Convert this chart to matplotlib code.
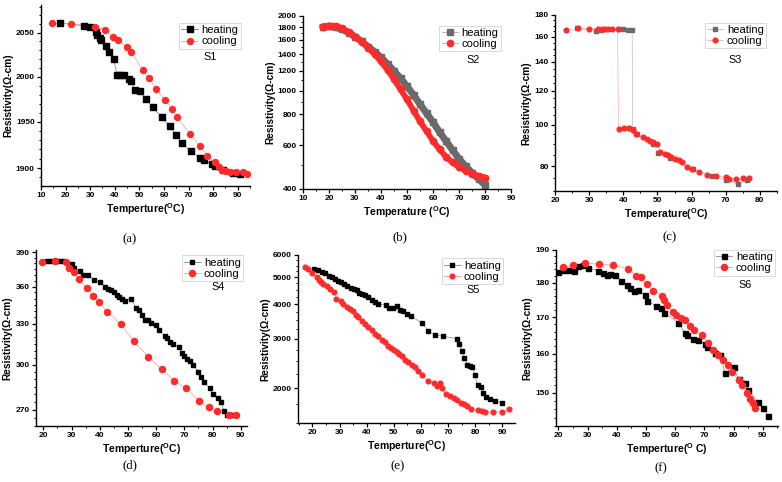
import matplotlib
matplotlib.use('Agg')
import matplotlib.pyplot as plt
from matplotlib.ticker import FixedLocator, FuncFormatter, NullFormatter, MultipleLocator

plt.rcParams['font.family'] = ['Liberation Sans', 'DejaVu Sans']
plt.rcParams['mathtext.fontset'] = 'custom'
plt.rcParams['mathtext.rm'] = 'Liberation Sans'
plt.rcParams['mathtext.bf'] = 'Liberation Sans:bold'

# ---------------- data ----------------
# (a) S1
a_heat_T = [17.9, 27.4, 30.0, 32.3, 32.6, 33.8, 34.5, 36.3, 37.5, 39.6, 40.9, 42.3, 43.7, 45.7, 46.5,
            48.3, 50.2, 52.8, 55.4, 59.2, 62.3, 64.8, 67.2, 71.0, 74.6, 76.1, 79.5, 80.7, 84.1, 88.2, 91.1]
a_heat_R = [2061, 2058, 2056, 2051, 2047, 2044, 2042, 2035, 2028, 2020, 2002, 2002, 2002, 1997, 1995,
            1985, 1984, 1975, 1966, 1955, 1945, 1936, 1927, 1918, 1911, 1909, 1904, 1902, 1898, 1895, 1894]
a_cool_T = [14.4, 22.3, 32.1, 36.2, 39.2, 41.5, 45.0, 46.8, 51.3, 54.1, 56.9, 60.3, 63.4, 65.4, 70.5,
            74.6, 77.7, 80.6, 82.5, 83.8, 85.2, 86.7, 89.4, 92.3, 93.6]
a_cool_R = [2061, 2060, 2057, 2053, 2045, 2041, 2033, 2028, 2007, 1998, 1986, 1974, 1964, 1955, 1937,
            1924, 1913, 1906, 1901, 1898, 1897, 1896, 1896, 1896, 1894]

# (b) S2
b_heat_T = [17.5, 20, 22.5, 25, 27.5, 30, 32.5, 35, 37.5, 40, 42.5, 45, 47.5, 50, 52.5, 55, 57.5,
            60, 62.5, 65, 67.5, 70, 72.5, 75, 77.5, 80]
b_heat_R = [1810, 1815, 1800, 1765, 1715, 1650, 1580, 1505, 1435, 1360, 1280, 1200, 1120, 1040, 960,
            880, 810, 745, 680, 625, 575, 530, 495, 465, 440, 415]
b_cool_T = [17.5, 20, 22.5, 25, 27.5, 30, 32.5, 35, 37.5, 40, 42.5, 45, 47.5, 50, 52.5, 55, 57.5,
            60, 62.5, 65, 67.5, 70, 72.5, 75, 77.5, 80]
b_cool_R = [1805, 1830, 1825, 1785, 1725, 1650, 1575, 1490, 1400, 1310, 1210, 1110, 1010, 920, 830,
            750, 685, 625, 578, 540, 512, 490, 475, 462, 452, 445]

# (c) S3
c_heat_T = [26.5, 31.9, 33.5, 38.6, 40.0, 41.5, 42.6, 42.7, 44.0, 48.6, 50.3, 53.7, 60.4, 66.0, 70.1, 73.5, 76.2]
c_heat_R = [167.5, 165.0, 166.0, 166.8, 166.8, 166.5, 166.5, 97.5, 95.0, 90.0, 85.9, 83.6, 78.9, 75.7, 74.2, 72.6, 74.2]
c_cool_T = [23.3, 26.8, 30.1, 32.5, 33.7, 34.7, 35.6, 36.8, 38.3, 38.6, 40.2, 41.8, 42.7, 43.8, 45.7,
            46.9, 47.9, 48.8, 49.8, 50.8, 52.1, 53.0, 54.0, 55.2, 56.2, 57.2, 58.6, 60.1, 62.3, 64.5,
            67.2, 70.1, 70.8, 73.1, 75.0, 76.9]
c_cool_R = [166.0, 167.5, 167.3, 167.1, 167.3, 167.2, 167.0, 167.0, 167.0, 97.8, 97.9, 98.0, 97.0, 95.2,
            93.5, 92.4, 91.5, 90.9, 90.2, 86.2, 85.5, 84.7, 84.0, 83.3, 82.5, 81.7, 79.6, 78.6, 77.4,
            76.4, 75.8, 75.4, 74.8, 74.8, 75.0, 75.1]

# (d) S4
d_heat_T = [21.2, 22.6, 24.1, 25.7, 27.1, 30, 31, 33, 34, 36, 38, 40, 42, 43, 44, 45, 46, 47, 48, 49,
            51, 53, 54, 55, 56, 57, 58, 60, 61, 63, 64, 65, 66, 68, 69, 70, 71, 72, 73, 75, 76, 77, 79,
            80, 82, 83, 84, 85, 86, 87]
d_heat_R = [382, 382, 382, 382, 382, 379, 376, 373, 370, 369.5, 365.5, 363.5, 360, 358, 357, 355, 353,
            351, 349.5, 348, 350, 342, 340.5, 337, 333, 333, 331, 329, 325.5, 321, 319, 316.5, 314.5,
            312.5, 308.5, 306, 304, 302.5, 300, 295, 291.5, 288, 284, 280, 277.5, 275, 269, 267, 267, 267]
d_cool_T = [19.5, 24.0, 28.2, 29.0, 31.0, 32.5, 35.5, 37.5, 39.7, 42.7, 47.5, 52.0, 57.2, 62.0, 66.2,
            70.7, 75.3, 78.7, 81.7, 85.8, 88.2]
d_cool_R = [381, 382, 381, 376, 372.5, 366, 359, 352, 347, 339.5, 329.5, 317, 305.5, 297, 289, 284,
            275.5, 271.5, 269.5, 266.5, 266.7]

# (e) S5
e_heat_T = [20.7, 22.2, 23.4, 24.7, 26.1, 27.1, 28.4, 29.3, 30.6, 31.7, 32.9, 34.1, 35.4, 36.3, 37.2,
            38.2, 39.4, 40.6, 41.9, 43.1, 44.3, 47.1, 48.4, 49.9, 51.1, 52.3, 53.5, 55.0, 56.2, 60.3,
            62.8, 65.2, 68.0, 73.2, 74.1, 75.0, 76.0, 77.1, 78.1, 79.0, 79.9, 80.9, 82.2, 83.0, 83.9,
            85.5, 87.3, 90.0]
e_heat_R = [5330, 5280, 5200, 5160, 5060, 5000, 4930, 4860, 4800, 4720, 4630, 4560, 4530, 4480, 4380,
            4360, 4320, 4240, 4140, 4070, 4010, 3960, 3890, 3860, 3930, 3800, 3770, 3690, 3640, 3420,
            3210, 3110, 3070, 3010, 2880, 2710, 2570, 2430, 2410, 2380, 2220, 2060, 2020, 1920, 1860,
            1830, 1800, 1770]
e_cool_T = [17.3, 18.5, 20.0, 21.6, 22.6, 23.2, 24.1, 25.3, 26.5, 28.0, 28.7, 30.6, 31.4, 32.7, 33.9,
            34.9, 36.1, 37.0, 38.2, 39.4, 40.6, 41.9, 43.1, 44.3, 45.6, 46.8, 48.0, 48.9, 50.1, 51.1,
            52.0, 53.0, 54.2, 55.4, 56.7, 57.9, 59.1, 60.3, 62.8, 65.0, 65.8, 67.1, 67.7, 69.3, 70.7,
            72.2, 73.4, 74.7, 75.9, 77.1, 78.4, 81.2, 82.4, 83.6, 86.7, 90.0, 92.6]
e_cool_R = [5420, 5330, 5160, 5020, 4900, 4800, 4720, 4630, 4530, 4430, 4170, 4090, 4010, 3920, 3850,
            3770, 3660, 3590, 3490, 3400, 3320, 3240, 3130, 3070, 2980, 2920, 2830, 2780, 2740, 2690,
            2650, 2600, 2530, 2480, 2430, 2380, 2310, 2220, 2120, 2090, 2030, 2080, 2000, 1900, 1870,
            1850, 1810, 1770, 1750, 1720, 1690, 1670, 1655, 1645, 1645, 1645, 1690]

# (f) S6
f_heat_T = [19.8, 21.5, 23.4, 25.5, 26.9, 28.6, 30.3, 33.7, 35.2, 36.6, 37.7, 39.4, 41.5, 43.4, 44.6,
            46.0, 47.4, 49.5, 50.5, 53.5, 55.1, 56.2, 61.1, 63.4, 64.2, 66.2, 67.7, 70.2, 70.8, 73.7,
            75.4, 77.1, 80.0, 81.7, 82.8, 84.0, 85.1, 88.2, 90.0, 91.9]
f_heat_R = [183.3, 183.8, 183.8, 183.6, 185.0, 185.3, 184.4, 183.6, 183.0, 182.4, 182.6, 182.3, 180.5,
            179.2, 178.3, 177.5, 177.8, 176.4, 174.7, 173.2, 172.6, 171.3, 168.5, 165.5, 165.2, 164.1,
            163.8, 162.7, 161.9, 160.3, 159.7, 154.9, 156.6, 153.4, 152.5, 152.4, 150.7, 147.8, 146.2, 144.3]
f_cool_T = [21.5, 25.1, 29.1, 33.9, 38.8, 44.0, 46.5, 48.3, 50.5, 52.3, 55.4, 56.3, 57.1, 59.2, 60.3,
            62.0, 63.4, 65.1, 66.5, 69.1, 71.4, 73.1, 74.8, 76.5, 78.2, 79.4, 81.7, 82.8, 84.5, 85.7,
            86.6, 87.4]
f_cool_R = [184.8, 185.2, 185.9, 185.6, 185.3, 184.2, 182.0, 181.8, 179.5, 177.5, 176.2, 174.9, 173.5,
            171.5, 170.5, 169.8, 169.2, 167.5, 166.5, 165.0, 162.8, 161.0, 159.7, 158.4, 157.1, 155.3,
            153.2, 151.9, 149.9, 148.6, 147.4, 146.4]

# ---------------- figure ----------------
W, H = 782, 482
fig = plt.figure(figsize=(W / 100, H / 100), dpi=100)
RED = '#ff2b2b'
GRAY = '#6a6a6a'


def add_ax(l, r, t, b):
    return fig.add_axes([l / W, 1 - b / H, (r - l) / W, (b - t) / H])


def style(ax, xlim, xmaj, xmin_step, ylim, ymaj, ymin, xlabel):
    ax.set_yscale('log')
    ax.set_xlim(xlim)
    ax.set_ylim(ylim)
    ax.xaxis.set_major_locator(FixedLocator(xmaj))
    ax.xaxis.set_minor_locator(MultipleLocator(xmin_step))
    ax.yaxis.set_major_locator(FixedLocator(ymaj))
    ax.yaxis.set_minor_locator(FixedLocator(ymin))
    ax.yaxis.set_major_formatter(FuncFormatter(lambda v, p: f'{v:g}'))
    ax.yaxis.set_minor_formatter(NullFormatter())
    ax.xaxis.set_major_formatter(FuncFormatter(lambda v, p: f'{v:g}'))
    for s in ('top', 'right'):
        ax.spines[s].set_visible(False)
    for s in ('left', 'bottom'):
        ax.spines[s].set_linewidth(1.0)
    ax.tick_params(which='major', direction='out', length=3, width=0.9, labelsize=6, pad=1.5)
    ax.tick_params(which='minor', direction='out', length=1.6, width=0.7)
    for lab in ax.get_xticklabels() + ax.get_yticklabels():
        lab.set_fontweight('bold')
    ax.set_xlabel(xlabel, fontsize=7.5, fontweight='bold', labelpad=1.5)
    ax.set_ylabel('Resistivity(\u03a9-cm)', fontsize=7.3, fontweight='bold', labelpad=2)


def legend(ax, fx, fy, name, sx, sy):
    lg = ax.legend(loc='upper right', bbox_to_anchor=(fx, fy), fontsize=8, frameon=True,
                   fancybox=False, edgecolor='#c8c8c8', handlelength=1.5, handletextpad=0.3,
                   borderpad=0.2, labelspacing=0.1, borderaxespad=0)
    lg.get_frame().set_linewidth(0.6)
    ax.text(sx, sy, name, transform=ax.transAxes, fontsize=7.8, ha='center', va='center')


def series(ax, T, R, color, marker, ms, label, lcolor, lw=0.5):
    ax.plot(T, R, '-', color=lcolor, lw=lw, zorder=2)
    ax.plot(T, R, linestyle='none', marker=marker, color=color, ms=ms, mec=color, zorder=3)
    ax.plot([], [], '-', color=lcolor, lw=0.6, marker=marker, ms=ms, mfc=color, mec=color, label=label)


# (a)
ax = add_ax(41, 250, 5, 186)
series(ax, a_heat_T, a_heat_R, 'black', 's', 3.9, 'heating', '#777777')
series(ax, a_cool_T, a_cool_R, RED, 'o', 4.3, 'cooling', '#ff9a9a')
style(ax, (10, 95), range(10, 91, 10), 5, (1881, 2082), [1900, 1950, 2000, 2050],
      list(range(1890, 2081, 10)), r'Temperture($^{\mathbf{O}}$C)')
legend(ax, 0.955, 0.90, 'S1', 0.81, 0.71)

# (b)
ax = add_ax(303, 511, 16, 189)
ax.plot(b_heat_T, b_heat_R, '-', color=GRAY, lw=5.0, zorder=2, solid_capstyle='butt')
ax.plot(b_heat_T, b_heat_R, 's', color=GRAY, ms=4.8, zorder=2)
ax.plot(b_cool_T, b_cool_R, '-', color=RED, lw=4.2, zorder=3)
ax.plot(b_cool_T, b_cool_R, 'o', color=RED, ms=4.6, zorder=3)
ax.plot([], [], '-', color='#aaaaaa', lw=0.6, marker='s', ms=4, mfc=GRAY, mec=GRAY, label='heating')
ax.plot([], [], '-', color='#ff9a9a', lw=0.6, marker='o', ms=4.5, mfc=RED, mec=RED, label='cooling')
style(ax, (10, 90), range(10, 91, 10), 5, (400, 2000), list(range(400, 2001, 200)),
      list(range(400, 2001, 100)), r'Temperature ($^{\mathbf{O}}$C)')
legend(ax, 0.95, 0.945, 'S2', 0.817, 0.745)

# (c)
ax = add_ax(555, 777, 15, 191)
series(ax, c_heat_T, c_heat_R, GRAY, 's', 3.0, 'heating', '#bdbdbd')
series(ax, c_cool_T, c_cool_R, RED, 'o', 3.4, 'cooling', '#ffb0b0')
style(ax, (20, 85), range(20, 81, 10), 5, (70, 180), [80, 100, 120, 140, 160, 180],
      list(range(70, 181, 5)), r'Temperature($^{\mathbf{O}}$C)')
legend(ax, 0.95, 0.955, 'S3', 0.81, 0.744)

# (d)
ax = add_ax(36, 247, 250, 426)
series(ax, d_heat_T, d_heat_R, 'black', 's', 2.9, 'heating', '#888888')
series(ax, d_cool_T, d_cool_R, RED, 'o', 4.4, 'cooling', '#ff9a9a')
style(ax, (17.4, 92.2), range(20, 91, 10), 5, (260, 392), [270, 300, 330, 360, 390],
      list(range(260, 391, 5)), r'Temperture($^{\mathbf{O}}$C)')
legend(ax, 0.981, 0.97, 'S4', 0.863, 0.79)

# (e)
ax = add_ax(298, 515, 255, 423)
series(ax, e_heat_T, e_heat_R, 'black', 's', 3.1, 'heating', '#888888')
series(ax, e_cool_T, e_cool_R, RED, 'o', 3.4, 'cooling', '#ff9a9a')
style(ax, (14.7, 94.7), range(20, 91, 10), 5, (1500, 6000), [2000, 3000, 4000, 5000, 6000],
      list(range(1500, 6001, 250)), r'Temperture($^{\mathbf{O}}$C)')
legend(ax, 0.945, 0.98, 'S5', 0.806, 0.79)

# (f)
ax = add_ax(556, 778, 250, 426)
series(ax, f_heat_T, f_heat_R, 'black', 's', 3.6, 'heating', '#888888')
series(ax, f_cool_T, f_cool_R, RED, 'o', 4.4, 'cooling', '#ff9a9a')
style(ax, (19.2, 95.2), range(20, 91, 10), 5, (142, 190), [150, 160, 170, 180, 190],
      list(range(142, 191, 2)), r'Temperture($^{\mathbf{O}}$ C)')
legend(ax, 0.986, 1.0, 'S6', 0.85, 0.80)

# sub-figure labels
for txt, x, y in [('(a)', 130, 239), ('(b)', 400, 237), ('(c)', 670, 237),
                  ('(d)', 130, 465), ('(e)', 398, 466), ('(f)', 661, 468)]:
    fig.text(x / W, 1 - y / H, txt, ha='center', va='center', fontsize=9.2,
             family='Liberation Serif')

fig.savefig('out.png', dpi=100)
